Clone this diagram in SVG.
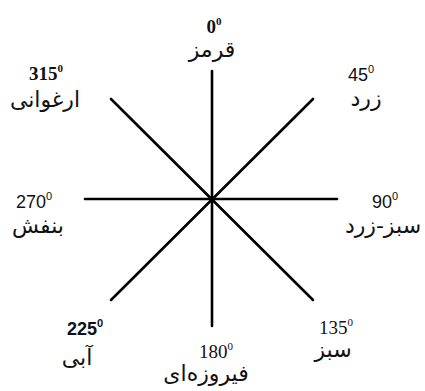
<svg xmlns="http://www.w3.org/2000/svg" width="425" height="391" viewBox="0 0 425 391">
<style>
.ln{stroke:#000;stroke-width:2.6;stroke-linecap:round;fill:none}
.num{font-family:"Liberation Serif",serif;font-size:19px;fill:#111;text-anchor:middle}
.ns{font-family:"Liberation Sans",sans-serif;font-size:18px;fill:#111;text-anchor:middle}
.b{font-weight:bold}
.fa{font-family:"DejaVu Sans",sans-serif;font-size:22px;fill:#111;text-anchor:middle}
.sup{font-size:11px}
</style>
<rect width="425" height="391" fill="#fff"/>
<g id="connectors">
<line class="ln" x1="212" y1="71" x2="212" y2="326"/>
<line class="ln" x1="85" y1="199" x2="337" y2="199"/>
<line class="ln" x1="111" y1="99" x2="313" y2="300"/>
<line class="ln" x1="313" y1="99" x2="111" y2="300"/>
<circle cx="212" cy="199" r="2.5" fill="#000"/>
</g>
<g id="n0">
<text class="num b" x="214" y="33">0<tspan class="sup" dy="-8">0</tspan></text>
<text class="fa" x="212" y="57">قرمز</text>
</g>
<g id="n45">
<text class="ns" x="361" y="81">45<tspan class="sup" dy="-8">0</tspan></text>
<text class="fa" x="366" y="106">زرد</text>
</g>
<g id="n90">
<text class="ns" x="385" y="208">90<tspan class="sup" dy="-8">0</tspan></text>
<text class="fa" x="383" y="233">سبز-زرد</text>
</g>
<g id="n135">
<text class="num" x="336" y="334">135<tspan class="sup" dy="-8">0</tspan></text>
<text class="fa" x="333" y="357">سبز</text>
</g>
<g id="n180">
<text class="num" x="216" y="358">180<tspan class="sup" dy="-8">0</tspan></text>
<text class="fa" x="206" y="381">فیروزه‌ای</text>
</g>
<g id="n225">
<text class="ns b" x="85" y="335">225<tspan class="sup" dy="-8">0</tspan></text>
<text class="fa" x="77" y="365">آبی</text>
</g>
<g id="n270">
<text class="ns" x="34" y="208">270<tspan class="sup" dy="-8">0</tspan></text>
<text class="fa" x="38" y="233">بنفش</text>
</g>
<g id="n315">
<text class="num b" x="46" y="80">315<tspan class="sup" dy="-8">0</tspan></text>
<text class="fa" x="45" y="107">ارغوانی</text>
</g>
</svg>
